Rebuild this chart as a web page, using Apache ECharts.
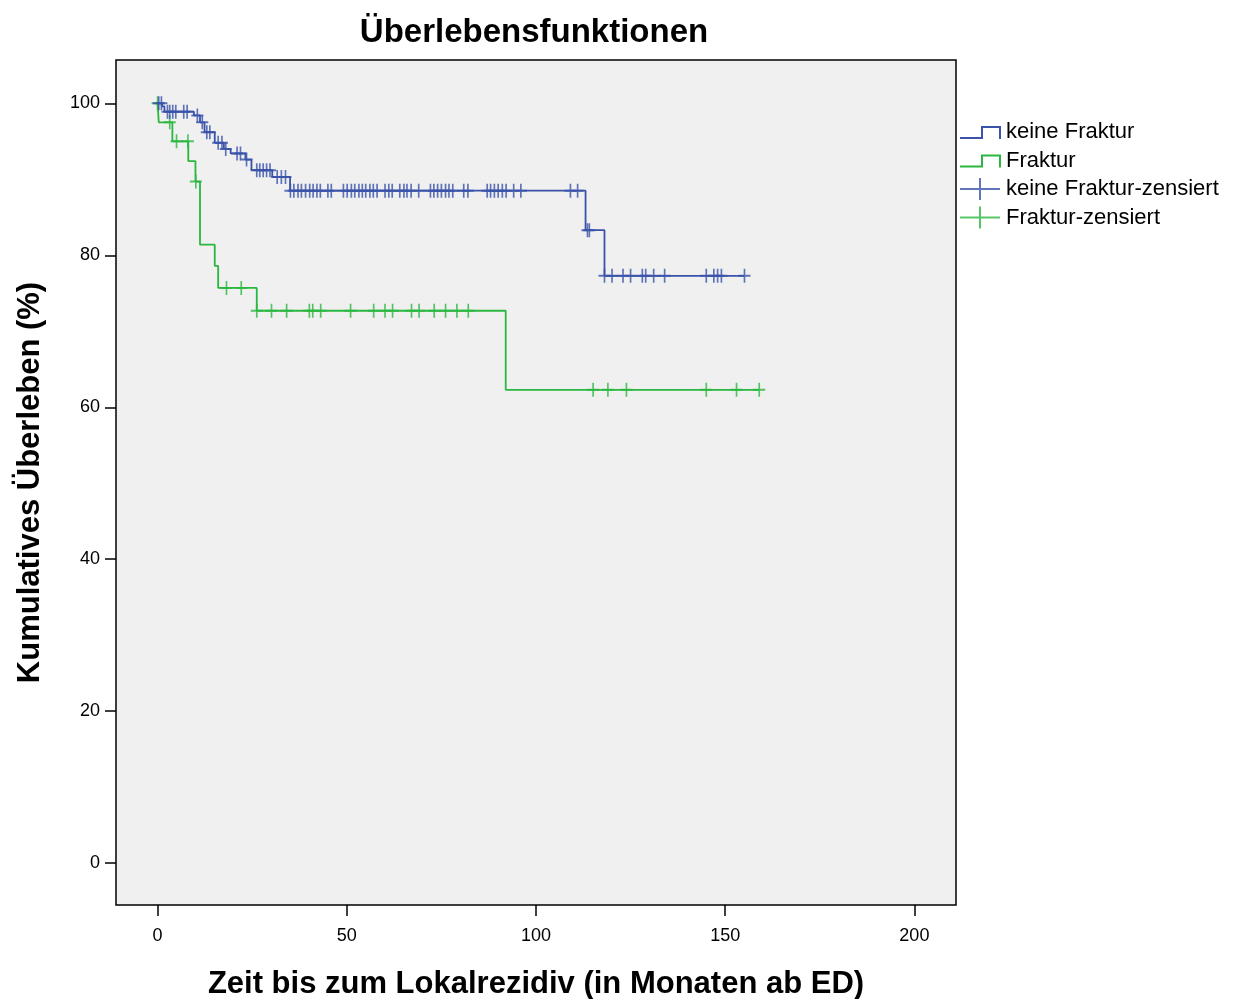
<!DOCTYPE html>
<html>
<head>
<meta charset="utf-8">
<script src="https://cdn.jsdelivr.net/npm/echarts@6/dist/echarts.min.js"></script>
<style>
    html, body { margin: 0; padding: 0; background: #fff; }
    #chart { width: 1234px; height: 999px; }
</style>
</head>
<body>
<div id="chart"></div>
<script>
// Kaplan-Meier Schätzung, Werte
var xTicks = [0, 50, 100, 150, 200];
var yTicks = [0, 20, 40, 60, 80, 100];

// keine Fraktur: Ereigniszeit / kumulatives Überleben danach
var blueTimes = [0, 1.2, 1.8, 9.6, 11.2, 12.4, 15.1, 17.5, 19.3, 23.2, 24.8, 30.3, 35.0, 113.1, 118.1, 155.1];
var blueSurv = [100, 99.6, 98.9, 98.4, 97.5, 96.2, 94.8, 94.0, 93.4, 92.6, 91.2, 90.3, 88.5, 83.3, 77.3, 77.3];
var blueCensored = [0.3, 1.0, 2.6, 3.2, 4.0, 4.8, 6.9, 7.8, 10.5, 11.8, 13.0, 13.8, 16.0, 17.0, 18.0,
    21.0, 21.9, 23.5, 26.2, 27.0, 27.9, 28.8, 29.7, 31.6, 32.7, 33.8,
    35.1, 36.0, 37.1, 38.0, 39.1, 40.2, 41.1, 42.1, 43.0, 45.0, 45.9, 49.1, 50.1, 51.2, 52.1, 53.2,
    54.1, 55.0, 56.1, 57.0, 58.0, 60.1, 61.1, 62.0, 64.0, 65.1, 65.9, 67.0, 69.0, 72.1, 73.0, 74.0,
    75.0, 76.1, 77.0, 78.0, 80.9, 82.0, 87.1, 88.0, 89.0, 90.0, 91.1, 92.1, 94.1, 96.0, 109.1, 111.0,
    113.6, 114.1, 118.1, 120.1, 123.0, 125.0, 128.1, 129.0, 131.1, 134.0, 145.0, 147.0, 148.0, 149.0, 155.1];

// Fraktur
var greenTimes = [0, 0.3, 3.9, 8.1, 10.0, 11.2, 15.1, 16.0, 26.2, 92.0, 159.0];
var greenSurv = [100, 97.5, 95.0, 92.4, 89.7, 81.4, 78.6, 75.7, 72.7, 62.3, 62.3];
var greenCensored = [0, 3.2, 5.0, 8.0, 10.1, 18.2, 22.1, 26.2, 30.1, 34.1, 40.1, 41.0, 43.1, 51.0, 57.1,
    60.1, 62.1, 67.1, 69.1, 73.1, 76.1, 79.1, 82.1, 115.1, 119.0, 123.9, 145.0, 153.0, 159.0];

var BLUE = '#3a52aa';
var GREEN = '#2ab73f';
var FONT = 'Liberation Sans';

function toPairs(times, surv) {
    var out = [];
    for (var i = 0; i < times.length; i++) out.push([times[i], surv[i]]);
    return out;
}
// Überleben zum Zeitpunkt t aus der Treppenfunktion ablesen
function survAt(times, surv, t) {
    var s = surv[0];
    for (var i = 0; i < times.length; i++) {
        if (times[i] <= t) s = surv[i];
    }
    return s;
}
function censorPairs(cens, times, surv) {
    return cens.map(function (t) { return [t, survAt(times, surv, t)]; });
}

var stepIcon = 'emptypath://M0,17 L22,17 L22,6 L40,6 L40,18 M0,0 M0,22';
var plusIcon = 'emptypath://M0,11 L40,11 M20,0 L20,22';
var plusSymbol = 'path://M5,0 L5,10 M0,5 L10,5';

var chart = echarts.init(document.getElementById('chart'));
var option = {
    animation: false,
    backgroundColor: '#fff',
    title: {
        text: 'Überlebensfunktionen',
        left: 529,
        top: 11,
        textAlign: 'center',
        textStyle: { fontFamily: FONT, fontSize: 33, fontWeight: 'bold', color: '#000' }
    },
    legend: {
        orient: 'vertical',
        left: 959,
        top: 120,
        itemWidth: 40,
        itemHeight: 22,
        itemGap: 4.5,
        padding: 0,
        textStyle: { fontFamily: FONT, fontSize: 22, lineHeight: 22, color: '#000', padding: [0, 0, 0, 1] },
        data: [
            { name: 'keine Fraktur', icon: stepIcon },
            { name: 'Fraktur', icon: stepIcon },
            { name: 'keine Fraktur-zensiert', icon: plusIcon },
            { name: 'Fraktur-zensiert', icon: plusIcon }
        ]
    },
    grid: {
        left: 116,
        right: 278,
        top: 60,
        bottom: 94,
        outerBoundsMode: 'none',
        show: true,
        backgroundColor: '#f0f0f0',
        borderColor: '#000',
        borderWidth: 1.5
    },
    xAxis: {
        type: 'value',
        min: -11,
        max: 211,
        name: 'Zeit bis zum Lokalrezidiv (in Monaten ab ED)',
        nameLocation: 'middle',
        nameGap: 64,
        nameTextStyle: { fontFamily: FONT, fontSize: 31, fontWeight: 'bold', color: '#000' },
        axisLine: { show: false, onZero: false },
        axisTick: { show: true, inside: false, length: 11, customValues: xTicks, lineStyle: { color: '#000', width: 1.5 } },
        axisLabel: { customValues: xTicks, margin: 22, fontFamily: FONT, fontSize: 18, color: '#000' },
        splitLine: { show: false }
    },
    yAxis: {
        type: 'value',
        min: -5.5,
        max: 105.7,
        name: 'Kumulatives Überleben (%)',
        nameLocation: 'middle',
        nameGap: 70,
        nameTextStyle: { fontFamily: FONT, fontSize: 31, fontWeight: 'bold', color: '#000' },
        axisLine: { show: false, onZero: false },
        axisTick: { show: true, inside: false, length: 11, customValues: yTicks, lineStyle: { color: '#000', width: 1.5 } },
        axisLabel: { customValues: yTicks, margin: 16, fontFamily: FONT, fontSize: 18, color: '#000' },
        splitLine: { show: false }
    },
    series: [
        {
            name: 'keine Fraktur',
            type: 'line',
            step: 'end',
            symbol: 'none',
            color: BLUE,
            lineStyle: { color: BLUE, width: 1.8 },
            data: toPairs(blueTimes, blueSurv),
            z: 3
        },
        {
            name: 'Fraktur',
            type: 'line',
            step: 'end',
            symbol: 'none',
            color: GREEN,
            lineStyle: { color: GREEN, width: 1.8 },
            data: toPairs(greenTimes, greenSurv),
            z: 2
        },
        {
            name: 'keine Fraktur-zensiert',
            type: 'scatter',
            symbol: plusSymbol,
            symbolSize: [12, 14],
            itemStyle: { color: BLUE, borderColor: BLUE, borderWidth: 1.8 },
            data: censorPairs(blueCensored, blueTimes, blueSurv),
            z: 4
        },
        {
            name: 'Fraktur-zensiert',
            type: 'scatter',
            symbol: plusSymbol,
            symbolSize: [12, 14],
            itemStyle: { color: GREEN, borderColor: GREEN, borderWidth: 1.8 },
            data: censorPairs(greenCensored, greenTimes, greenSurv),
            z: 3
        }
    ]
};
chart.setOption(option);
</script>
</body>
</html>
